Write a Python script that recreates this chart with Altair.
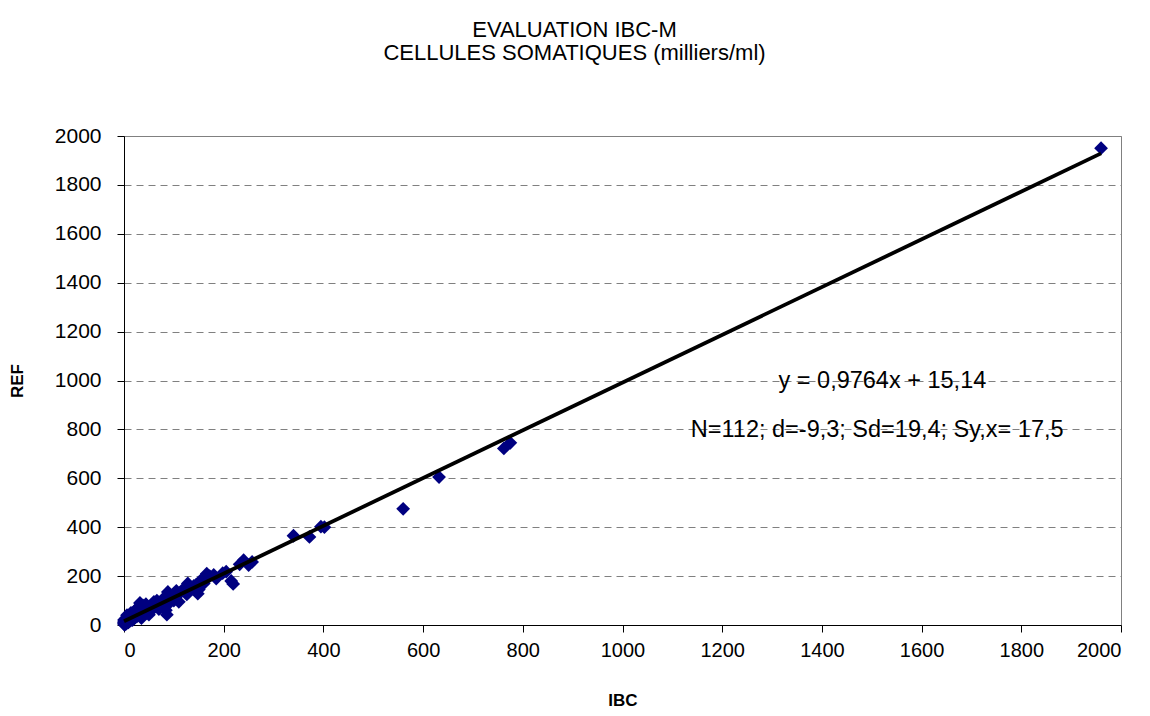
import altair as alt
import pandas as pd

ibc = [1960, 775, 762, 632, 560, 402, 395, 372, 340,
       257, 250, 240, 232, 219, 215, 205, 198, 180, 172, 166,
       160, 155, 148, 150, 140, 135, 126, 128, 118, 112, 105, 100, 95, 92,
       88, 86, 84, 80, 76, 72, 70, 66, 62, 58, 55, 52, 48, 45, 42,
       40, 38, 36, 34, 32, 30, 28, 26, 24, 22, 20, 19, 18, 17, 16,
       15, 14, 13, 12, 11, 10, 10, 9, 9, 8, 8, 7, 7, 6, 6,
       5, 5, 5, 4, 4, 4, 3, 3, 3, 2, 2, 2, 2, 1, 1, 1, 1, 0, 0, 0, 0,
       60, 44, 27, 110, 130, 145, 185, 23, 14, 6, 35, 50]
ref = [1950, 745, 722, 605, 475, 400, 402, 360, 365,
       258, 245, 265, 248, 168, 180, 218, 212, 205, 200, 210,
       170, 185, 128, 145, 160, 150, 125, 170, 145, 130, 140, 100, 110, 92,
       135, 42, 60, 110, 95, 88, 65, 100, 75, 80, 60, 70, 72, 50, 65,
       55, 80, 48, 45, 90, 40, 55, 35, 48, 30, 45, 25, 38, 20, 30,
       42, 22, 18, 35, 25, 15, 30, 20, 12, 25, 10, 18, 28, 12, 22,
       8, 15, 30, 10, 20, 5, 14, 25, 8, 6, 12, 18, 3, 10, 5, 15, 2, 8, 4, 12, 20,
       95, 85, 70, 95, 140, 165, 190, 60, 50, 40, 28, 42]

slope = 0.9764
intercept = 15.14
fit_x = [min(ibc), max(ibc)]

ticks = [0, 200, 400, 600, 800, 1000, 1200, 1400, 1600, 1800, 2000]

eq_label = "y = 0,9764x + 15,14"
stat_label = "N=112; d=-9,3; Sd=19,4; Sy,x= 17,5"

pts = pd.DataFrame({"IBC": ibc, "REF": ref})
fit = pd.DataFrame({"IBC": fit_x, "REF": [slope * v + intercept for v in fit_x]})
notes = pd.DataFrame({"IBC": [1313, 1137], "REF": [969, 769], "label": [eq_label, stat_label]})

FONT = "Liberation Sans"

xs = alt.Scale(domain=[0, 2000], nice=False, zero=True)
ys = alt.Scale(domain=[0, 2000], nice=False, zero=True)

x_axis = alt.Axis(values=ticks, format="d", grid=False, title="IBC",
                  domainColor="black", tickColor="black", tickSize=7,
                  labelFontSize=20, labelPadding=8, labelFont=FONT,
                  titleFont=FONT, titleFontSize=17, titleFontWeight="bold",
                  titlePadding=32, titleColor="black", labelColor="black")
y_axis = alt.Axis(values=ticks, format="d", grid=True, gridDash=[7, 5],
                  gridColor="#808080", gridWidth=1, title="REF",
                  domainColor="black", tickColor="black", tickSize=7,
                  labelFontSize=21, labelPadding=16, labelFont=FONT,
                  titleFont=FONT, titleFontSize=17, titleFontWeight="bold",
                  titlePadding=28, titleColor="black", labelColor="black")

points = alt.Chart(pts).mark_point(shape="diamond", filled=True, color="#000080",
                                   size=190, opacity=1).encode(
    x=alt.X("IBC:Q", scale=xs, axis=x_axis),
    y=alt.Y("REF:Q", scale=ys, axis=y_axis),
)

line = alt.Chart(fit).mark_line(color="black", strokeWidth=3.8).encode(
    x=alt.X("IBC:Q", scale=xs),
    y=alt.Y("REF:Q", scale=ys),
)

text = alt.Chart(notes).mark_text(align="left", baseline="alphabetic", font=FONT,
                                  fontSize=23.5, color="black").encode(
    x=alt.X("IBC:Q", scale=xs),
    y=alt.Y("REF:Q", scale=ys),
    text="label:N",
)

chart = alt.layer(points, line, text).properties(
    width=997, height=489,
    title=alt.TitleParams(["EVALUATION IBC-M", "CELLULES SOMATIQUES (milliers/ml)"],
                          font=FONT, fontSize=22, fontWeight="normal", color="black",
                          anchor="middle", dx=-48, offset=60, lineHeight=23),
    autosize=alt.AutoSizeParams(type="none"),
    padding={"left": 116, "top": 128, "right": 21, "bottom": 92},
    background="white",
).configure_view(stroke="#808080", strokeWidth=1)

chart.save("out.html", embed_options={"renderer": "svg", "actions": False})
